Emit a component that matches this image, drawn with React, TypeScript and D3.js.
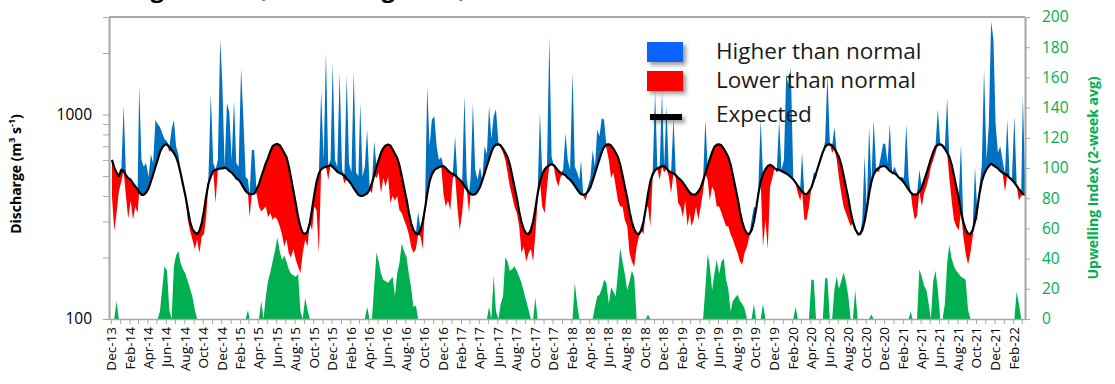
import React, { useEffect, useRef } from 'react';
import * as d3 from 'd3';

// four readings a month (roughly weekly), Dec 2013 - Mar 2022
// each row is one season: Dec, Jan, ... Nov
const expected = [
  600, 550, 520, 500, 537, 530, 505, 489, 480, 460, 445, 430, 418, 405, 405, 415, 435, 470, 510, 555, 600, 655, 690, 712, 713, 695, 670, 649, 620, 575, 515, 455, 400, 345, 300, 275, 265, 260, 270, 295, 336, 400, 460, 497, 530, 537, 540, 545,
  545, 550, 545, 530, 520, 505, 487, 480, 462, 440, 422, 412, 410, 408, 410, 430, 455, 495, 535, 578, 612, 660, 700, 713, 718, 708, 680, 649, 620, 560, 490, 425, 365, 315, 282, 264, 260, 268, 295, 345, 405, 470, 515, 540, 552, 555, 560, 565,
  555, 540, 525, 517, 510, 503, 485, 473, 455, 436, 420, 405, 400, 400, 405, 412, 430, 462, 505, 555, 600, 650, 685, 706, 713, 705, 675, 642, 615, 565, 500, 440, 385, 332, 294, 272, 262, 260, 272, 300, 345, 410, 470, 510, 535, 545, 552, 558,
  560, 548, 532, 520, 512, 505, 492, 480, 466, 448, 430, 415, 408, 405, 408, 420, 442, 476, 516, 560, 605, 655, 695, 712, 715, 705, 680, 650, 620, 570, 505, 445, 390, 335, 298, 275, 262, 260, 272, 300, 345, 410, 470, 510, 540, 555, 565, 572,
  565, 548, 530, 518, 512, 505, 490, 480, 465, 448, 430, 415, 408, 405, 408, 420, 440, 475, 515, 560, 605, 655, 695, 712, 715, 705, 680, 650, 620, 570, 505, 445, 390, 335, 298, 275, 262, 260, 272, 300, 345, 410, 470, 510, 535, 545, 552, 558,
  560, 545, 530, 520, 515, 505, 490, 480, 465, 448, 430, 415, 408, 405, 408, 420, 440, 475, 515, 560, 605, 655, 695, 712, 715, 705, 680, 650, 620, 570, 505, 445, 390, 335, 298, 275, 262, 260, 272, 300, 345, 410, 470, 510, 540, 560, 568, 560,
  545, 540, 535, 530, 522, 515, 505, 495, 482, 465, 448, 432, 420, 410, 408, 420, 440, 475, 515, 560, 605, 655, 695, 712, 715, 705, 680, 650, 620, 570, 505, 445, 390, 335, 298, 275, 262, 260, 272, 300, 345, 410, 470, 510, 535, 548, 555, 560,
  560, 545, 530, 520, 515, 505, 490, 480, 465, 448, 430, 415, 408, 405, 408, 420, 440, 475, 515, 560, 605, 655, 695, 712, 715, 705, 680, 650, 620, 570, 505, 445, 390, 335, 298, 275, 262, 260, 272, 300, 345, 410, 470, 510, 540, 560, 575, 565,
  555, 545, 530, 520, 512, 505, 490, 480, 465, 448, 432, 418, 408, 405, 408, 420,
];

const observed = [
  400, 270, 330, 420, 470, 1100, 400, 310, 380, 306, 355, 330, 1380, 600, 555, 580, 497, 640, 580, 944, 900, 870, 810, 760, 740, 660, 844, 944, 700, 640, 520, 460, 390, 306, 270, 245, 220, 245, 210, 253, 260, 315, 497, 1260, 580, 369, 600, 2330,
  1420, 555, 1140, 1030, 600, 1170, 580, 555, 1690, 944, 497, 480, 315, 670, 670, 412, 355, 336, 345, 355, 315, 330, 306, 315, 306, 284, 260, 226, 245, 210, 200, 220, 195, 180, 168, 210, 245, 226, 295, 270, 355, 340, 210, 1300, 600, 2000, 480, 600,
  1780, 600, 555, 1600, 537, 460, 1550, 580, 520, 1640, 520, 500, 1140, 497, 555, 844, 445, 412, 740, 489, 520, 412, 489, 445, 497, 369, 400, 380, 400, 340, 330, 306, 284, 260, 226, 210, 220, 336, 253, 220, 355, 1380, 700, 944, 980, 700, 600, 620,
  412, 355, 380, 340, 489, 783, 355, 272, 330, 1240, 480, 330, 489, 1140, 537, 480, 555, 480, 700, 640, 1100, 760, 980, 1060, 725, 690, 650, 600, 520, 445, 400, 355, 330, 284, 210, 226, 191, 210, 220, 191, 260, 380, 1020, 355, 330, 445, 2400, 620,
  555, 480, 445, 497, 537, 810, 600, 537, 1600, 555, 520, 480, 600, 400, 380, 445, 489, 670, 555, 844, 783, 960, 944, 690, 600, 489, 520, 445, 380, 355, 355, 306, 284, 210, 191, 180, 226, 253, 284, 260, 355, 355, 284, 489, 1290, 537, 480, 1290,
  520, 1100, 497, 412, 960, 489, 369, 355, 315, 380, 284, 330, 284, 306, 355, 306, 355, 420, 944, 480, 380, 445, 420, 355, 355, 330, 306, 284, 284, 260, 245, 226, 210, 191, 185, 210, 226, 253, 306, 355, 330, 445, 944, 226, 306, 220, 445, 489,
  555, 520, 944, 537, 600, 1580, 1380, 1700, 489, 460, 412, 380, 650, 306, 306, 355, 445, 520, 489, 555, 600, 650, 740, 1580, 713, 650, 870, 600, 489, 412, 355, 330, 306, 284, 306, 284, 253, 260, 306, 630, 340, 870, 445, 944, 537, 520, 620, 720,
  720, 580, 900, 520, 555, 520, 489, 497, 489, 900, 489, 412, 355, 306, 320, 537, 355, 412, 445, 489, 555, 600, 650, 1060, 725, 690, 700, 1200, 489, 380, 306, 284, 272, 720, 253, 210, 185, 210, 253, 555, 306, 445, 560, 1660, 600, 900, 2850, 2330,
  900, 650, 700, 600, 420, 944, 500, 470, 980, 460, 380, 400, 1230, 480, 480, 480,
];

const upwelling = [
  0, 0, 12, 0, 0, 0, 0, 0, 0, 0, 0, 0, 0, 0, 0, 0, 0, 0, 0, 0, 0, 5, 20, 35, 32, 6, 0, 35, 42, 45, 37, 33, 30, 25, 20, 15, 6, 0, 0, 0, 0, 0, 0, 0, 0, 0, 0, 0,
  0, 0, 0, 0, 0, 0, 0, 0, 0, 0, 0, 6, 0, 0, 0, 0, 0, 12, 0, 15, 25, 31, 38, 45, 54, 45, 39, 42, 38, 33, 30, 29, 28, 30, 5, 0, 14, 6, 0, 0, 0, 0, 0, 0, 0, 0, 0, 0,
  0, 0, 0, 0, 0, 0, 0, 0, 0, 0, 0, 0, 0, 0, 0, 8, 0, 0, 22, 44, 38, 30, 26, 25, 24, 26, 28, 15, 30, 37, 50, 45, 41, 30, 21, 8, 9, 0, 0, 0, 0, 0, 0, 0, 0, 0, 0, 0,
  0, 0, 0, 0, 0, 0, 0, 0, 0, 0, 0, 0, 0, 0, 0, 0, 0, 0, 0, 0, 8, 0, 29, 5, 0, 10, 15, 41, 38, 32, 33, 35, 32, 28, 24, 18, 12, 6, 0, 0, 14, 0, 0, 0, 0, 0, 0, 0,
  0, 0, 0, 0, 0, 0, 0, 0, 0, 24, 10, 0, 0, 0, 0, 0, 0, 0, 8, 15, 16, 20, 26, 24, 10, 21, 18, 15, 30, 47, 38, 30, 19, 25, 32, 28, 0, 0, 0, 0, 0, 3, 0, 0, 0, 0, 0, 0,
  0, 0, 0, 0, 0, 0, 0, 0, 0, 0, 0, 0, 0, 0, 0, 0, 0, 0, 20, 43, 35, 19, 30, 39, 30, 38, 40, 26, 20, 5, 12, 14, 16, 12, 10, 7, 0, 0, 0, 10, 0, 0, 0, 10, 0, 0, 0, 0,
  0, 0, 0, 0, 0, 0, 0, 0, 0, 8, 0, 0, 0, 0, 0, 0, 26, 26, 0, 0, 0, 0, 27, 27, 0, 0, 20, 28, 20, 25, 31, 25, 15, 0, 0, 19, 0, 0, 0, 0, 0, 0, 3, 0, 0, 0, 0, 0,
  0, 0, 0, 0, 0, 0, 0, 0, 0, 0, 0, 5, 0, 0, 0, 33, 28, 22, 19, 10, 0, 25, 32, 20, 0, 0, 10, 37, 49, 40, 35, 32, 30, 28, 27, 26, 6, 0, 0, 0, 0, 0, 0, 0, 0, 0, 0, 0,
  0, 0, 0, 0, 0, 0, 0, 0, 0, 18, 10, 0, 0, 0, 0, 0,
];

const legendItems = [
  { label: 'Higher than normal', color: '#0A64FF', kind: 'box' },
  { label: 'Lower than normal', color: '#FF0000', kind: 'box' },
  { label: 'Expected', color: '#000000', kind: 'line' },
];

// reading i sits in month floor(i/4) after Dec 2013, about a week apart
const dates = expected.map((_, i) => {
  const t = new Date(2013, 11 + Math.floor(i / 4), 1).getTime();
  return new Date(t + (3.8 + (i % 4) * 7.6) * 864e5);
});

const W = 1115;
const H = 384;
const L = 109;
const R = 1025;
const T = 17;
const B = 319;
const FONT = "'Open Sans', sans-serif";
const GRAY = '#A6A6A6';

const App = () => {
  const ref = useRef<SVGSVGElement | null>(null);

  useEffect(() => {
    const svg = d3.select(ref.current);
    svg.selectAll('*').remove();

    const x = d3.scaleTime().domain([new Date(2013, 10, 25), new Date(2022, 2, 12)]).range([L, R]);
    const y = d3.scaleLog().domain([100, 3000]).range([B, T]);
    const y2 = d3.scaleLinear().domain([0, 200]).range([B, T]);
    const rows = dates.map((d, i) => ({ d, e: expected[i], o: observed[i], u: upwelling[i] }));

    const defs = svg.append('defs');
    defs.append('clipPath').attr('id', 'plot')
      .append('rect').attr('x', L).attr('y', T).attr('width', R - L).attr('height', B - T);
    defs.append('filter').attr('id', 'shadow')
      .attr('x', '-30%').attr('y', '-60%').attr('width', '180%').attr('height', '300%')
      .append('feDropShadow')
      .attr('dx', 3).attr('dy', 3).attr('stdDeviation', 2)
      .attr('flood-color', '#000').attr('flood-opacity', 0.4);

    // the title sits above the picture; only its descenders show
    svg.append('text')
      .attr('x', 60).attr('y', -3)
      .attr('font-family', FONT).attr('font-weight', 700).attr('font-size', 24)
      .text('Discharge Index (Smoothing Data)');

    const plot = svg.append('g').attr('clip-path', 'url(#plot)');

    plot.append('path').datum(rows)
      .attr('fill', '#00B050')
      .attr('d', d3.area<any>().x((r) => x(r.d)).y0(y2(0)).y1((r) => y2(r.u)));

    plot.append('path').datum(rows)
      .attr('fill', '#0070C0')
      .attr('d', d3.area<any>().x((r) => x(r.d)).y0((r) => y(r.e)).y1((r) => y(Math.max(r.o, r.e))));

    plot.append('path').datum(rows)
      .attr('fill', '#FF0000')
      .attr('d', d3.area<any>().x((r) => x(r.d)).y0((r) => y(r.e)).y1((r) => y(Math.min(r.o, r.e))));

    plot.append('path').datum(rows)
      .attr('fill', 'none').attr('stroke', '#000').attr('stroke-width', 2.2)
      .attr('stroke-linejoin', 'round')
      .attr('d', d3.line<any>().x((r) => x(r.d)).y((r) => y(r.e)));

    // frame top
    svg.append('line')
      .attr('x1', L).attr('x2', R).attr('y1', T).attr('y2', T)
      .attr('stroke', '#8C8C8C').attr('stroke-width', 1.5);

    // left axis (log)
    const left = svg.append('g').attr('transform', `translate(${L},0)`)
      .call(d3.axisLeft(y)
        .tickValues([100, 200, 300, 400, 500, 600, 700, 800, 900, 1000, 2000, 3000])
        .tickSize(6).tickSizeOuter(0).tickPadding(11)
        .tickFormat((v: any) => (v === 100 || v === 1000 ? String(v) : '')));
    left.select('.domain').attr('stroke', GRAY).attr('stroke-width', 2);
    left.selectAll('line').attr('stroke', GRAY);
    left.selectAll('text').attr('font-family', FONT).attr('font-size', 15.5).attr('fill', '#000');

    // bottom axis, a tick each month, a label every other month
    const months = d3.timeMonth.range(new Date(2013, 11, 1), new Date(2022, 2, 2));
    const fmt = d3.timeFormat('%b-%y');
    const bottom = svg.append('g').attr('transform', `translate(0,${B})`)
      .call(d3.axisBottom(x)
        .tickValues(months)
        .tickSize(5).tickSizeOuter(0)
        .tickFormat((d: any, i: number) => (i % 2 === 0 ? fmt(d) : '')));
    bottom.select('.domain').attr('stroke', GRAY).attr('stroke-width', 1.5);
    bottom.selectAll('line').attr('stroke', GRAY);
    bottom.selectAll('text')
      .attr('transform', 'rotate(-90)')
      .attr('text-anchor', 'end')
      .attr('x', -8).attr('y', 0).attr('dy', '0.36em')
      .attr('font-family', FONT).attr('font-size', 13.5).attr('fill', '#000');

    // right axis (upwelling)
    const right = svg.append('g').attr('transform', `translate(${R},0)`)
      .call(d3.axisRight(y2)
        .tickValues(d3.range(0, 201, 20))
        .tickSize(5).tickSizeOuter(0).tickPadding(12));
    right.select('.domain').attr('stroke', GRAY).attr('stroke-width', 2);
    right.selectAll('line').attr('stroke', GRAY);
    right.selectAll('text').attr('font-family', FONT).attr('font-size', 15.5).attr('fill', '#00B050');

    // axis titles
    const yt = svg.append('text')
      .attr('transform', 'translate(21,174) rotate(-90)')
      .attr('text-anchor', 'middle')
      .attr('font-family', FONT).attr('font-weight', 700).attr('font-size', 14).attr('fill', '#000');
    yt.append('tspan').text('Discharge (m');
    yt.append('tspan').attr('dy', -6).attr('font-size', 9).text('3');
    yt.append('tspan').attr('dy', 6).text(' s');
    yt.append('tspan').attr('dy', -6).attr('font-size', 9).text('-1');
    yt.append('tspan').attr('dy', 6).text(')');

    svg.append('text')
      .attr('transform', 'translate(1098,178) rotate(-90)')
      .attr('text-anchor', 'middle')
      .attr('font-family', FONT).attr('font-weight', 700).attr('font-size', 14).attr('fill', '#00B050')
      .text('Upwelling Index (2-week avg)');

    // legend
    const lg = svg.append('g');
    legendItems.forEach((item, i) => {
      const cy = 52 + i * 29;
      if (item.kind === 'box') {
        lg.append('rect')
          .attr('x', 647).attr('y', cy - 10).attr('width', 36).attr('height', 20)
          .attr('fill', item.color).attr('filter', 'url(#shadow)');
      } else {
        lg.append('rect')
          .attr('x', 650).attr('y', cy + 4).attr('width', 32).attr('height', 6)
          .attr('fill', item.color).attr('filter', 'url(#shadow)');
      }
      lg.append('text')
        .attr('x', 716).attr('y', cy + 7 + (i === 2 ? 5 : 0))
        .attr('font-family', FONT).attr('font-size', 22.5).attr('fill', '#1A1A1A')
        .text(item.label);
    });
  }, []);

  return (
    <svg
      ref={ref}
      width={W}
      height={H}
      style={{ position: 'absolute', left: 0, top: 0, background: '#fff' }}
    />
  );
};

export default App;
